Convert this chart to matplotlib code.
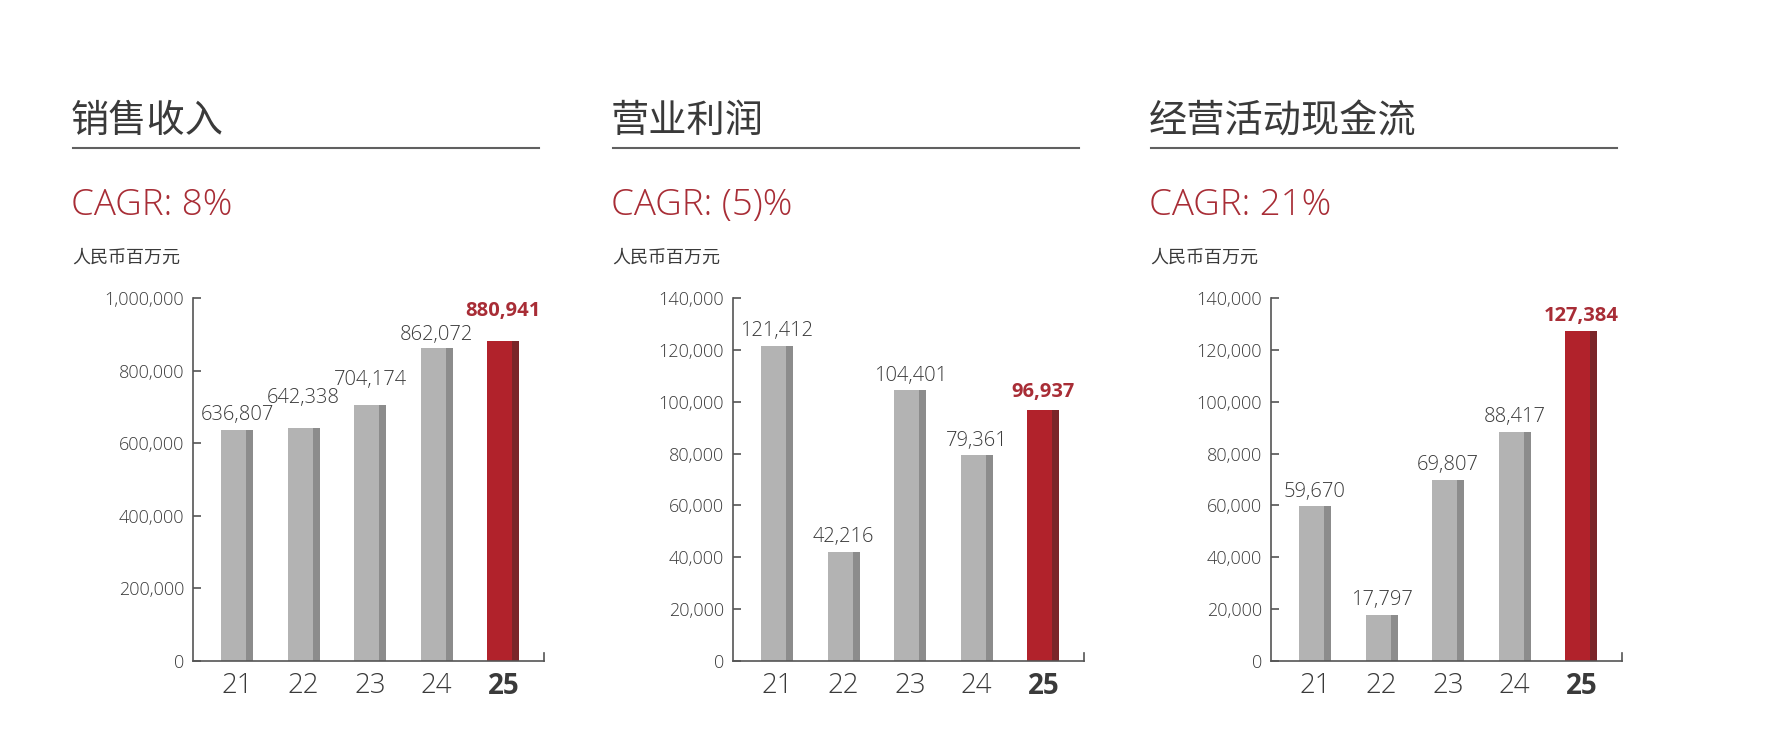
import matplotlib
matplotlib.use('Agg')
import matplotlib.pyplot as plt
from matplotlib.lines import Line2D
from matplotlib.ticker import FuncFormatter
import numpy as np

plt.rcParams['font.family'] = ['Open Sans', 'Noto Sans CJK SC', 'DejaVu Sans']

# data
years = ['21', '22', '23', '24', '25']
titles = ['销售收入', '营业利润', '经营活动现金流']
cagr_labels = ['CAGR: 8%', 'CAGR: (5)%', 'CAGR: 21%']
unit_label = '人民币百万元'
sales = [636807, 642338, 704174, 862072, 880941]
profit = [121412, 42216, 104401, 79361, 96937]
cashflow = [59670, 17797, 69807, 88417, 127384]
series = [sales, profit, cashflow]
y_max = [1000000, 140000, 140000]
y_step = [200000, 20000, 20000]

# extra lift (points) of the value labels so they do not collide
label_lift = [[0, 11, 8, -1, 11], [0, 0, 0, 0, 2], [0, 0, 0, 0, 0]]

W, H = 1766, 742
TXT = '#3a3a3a'
AXC = '#555555'
RED_TXT = '#a82d36'
LIGHT = ['#b3b3b3'] * 4 + ['#b1222b']
DARK = ['#8c8c8c'] * 4 + ['#7a2529']

fig = plt.figure(figsize=(W / 100, H / 100), dpi=100)
fig.patch.set_facecolor('white')

def fx(px):
    return px / W

def fy(py):
    return 1 - py / H

offsets = [0, 540, 1078]

for i, vals in enumerate(series):
    dx = offsets[i]
    # header block
    fig.text(fx(71 + dx), fy(122), titles[i], fontsize=27.5, color=TXT,
             ha='left', va='center')
    fig.add_artist(Line2D([fx(73 + dx), fx(539 + dx)], [fy(148), fy(148)],
                          color='#606060', lw=1.5))
    fig.text(fx(71 + dx), fy(215), cagr_labels[i], fontsize=26.5, color=RED_TXT,
             ha='left', va='baseline', fontweight='light')
    fig.text(fx(72 + dx), fy(258), unit_label, fontsize=13, color=TXT,
             ha='left', va='center')

    ax = fig.add_axes([fx(193 + dx), 1 - 661 / H, 351 / W, (661 - 298) / H])
    x = np.arange(len(years))
    ax.bar(x - 0.24, vals, width=0.375, align='edge', color=LIGHT, linewidth=0)
    ax.bar(x + 0.135, vals, width=0.105, align='edge', color=DARK, linewidth=0)

    for j, v in enumerate(vals):
        last = j == len(vals) - 1
        ax.annotate(f'{v:,}', xy=(x[j], v), xytext=(0, 7 + label_lift[i][j]),
                    textcoords='offset points', ha='center', va='baseline',
                    fontsize=14.5, color=RED_TXT if last else TXT,
                    fontweight='bold' if last else 'light')

    ax.set_xlim(-0.66, 4.61)
    ax.set_ylim(0, y_max[i])
    ax.set_yticks(np.arange(0, y_max[i] + 1, y_step[i]))
    ax.yaxis.set_major_formatter(FuncFormatter(lambda v, p: f'{int(v):,}'))
    ax.set_xticks(x)
    ax.set_xticklabels(years)
    for t in ax.get_yticklabels():
        t.set_fontweight('light')
    for t in ax.get_xticklabels()[:-1]:
        t.set_fontweight('light')
    ax.get_xticklabels()[-1].set_fontweight('bold')

    ax.tick_params(axis='y', direction='in', length=6, width=1.2, color=AXC,
                   pad=6.5, labelsize=13, labelcolor=TXT)
    ax.tick_params(axis='x', length=0, pad=8, labelsize=20, labelcolor=TXT)
    for s in ['top', 'right']:
        ax.spines[s].set_visible(False)
    for s in ['left', 'bottom']:
        ax.spines[s].set_color(AXC)
        ax.spines[s].set_linewidth(1.2)
    # small end mark on the right of the x axis
    ax.plot([1, 1], [0, 0.022], transform=ax.transAxes, color=AXC, lw=1.2,
            clip_on=False)

fig.savefig('out.png', dpi=100, facecolor='white')
